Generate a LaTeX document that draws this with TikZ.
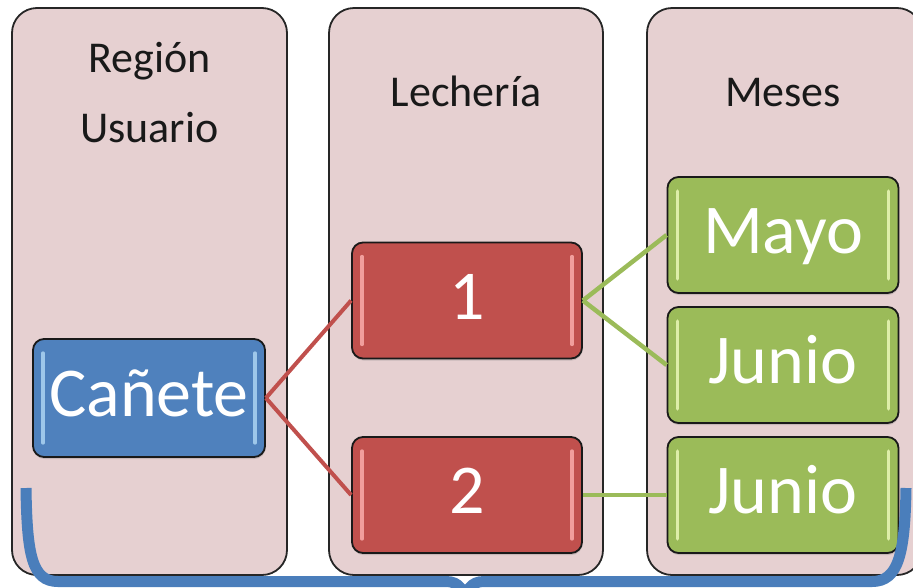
\documentclass[tikz,border=0pt]{standalone}
\usepackage{fontspec}
\setmainfont{Carlito}
\usetikzlibrary{shadows}
\definecolor{colfill}{RGB}{230,208,209}
\definecolor{bluefill}{RGB}{79,129,189}
\definecolor{redfill}{RGB}{192,80,77}
\definecolor{greenfill}{RGB}{155,187,89}
\definecolor{bracketblue}{RGB}{74,126,187}
\definecolor{bluehl}{RGB}{172,212,242}
\definecolor{redhl}{RGB}{250,172,170}
\definecolor{greenhl}{RGB}{234,248,184}
\begin{document}
\begin{tikzpicture}[x=1pt,y=-1pt,
  column/.style={draw=black!85, line width=1.8pt, fill=colfill, rounded corners=25pt,
    minimum height=567pt, inner sep=0pt},
  header/.style={anchor=base, font=\fontsize{44}{50}\selectfont, text=black!90, inner sep=0pt},
  box/.style={draw=black!90, line width=1.8pt, rounded corners=11pt, minimum width=230pt,
    minimum height=116pt, inner sep=0pt, text=white, font=\fontsize{70}{80}\selectfont,
    text height=45pt, text depth=8pt,
    drop shadow={shadow xshift=0.5pt, shadow yshift=-2pt, opacity=0.3}},
  stripe/.style={line width=3.5pt, line cap=round, opacity=0.85},
  redlink/.style={draw=redfill, line width=4pt},
  greenlink/.style={draw=greenfill, line width=4.5pt},
  bracket/.style={draw=bracketblue, line width=11pt}
]
\useasboundingbox (0,0) rectangle (913,587);

% columns
\node[column, minimum width=275pt] (c1) at (149.5,291.5) {};
\node[column, minimum width=274pt] (c2) at (466,291.5) {};
\node[column, minimum width=275pt] (c3) at (784.5,291.5) {};

% headers
\node[header] (h1a) at (149.5,72) {Región};
\node[header] (h1b) at (149.5,142) {Usuario};
\node[header] (h2) at (466,106) {Lechería};
\node[header] (h3) at (783,106) {Meses};

% boxes
\node[box, fill=bluefill, minimum width=232pt, minimum height=118pt] (cn) at (149,398) {Cañete};
\node[box, fill=redfill] (n1) at (467,300.5) {1};
\node[box, fill=redfill] (n2) at (467,495) {2};
\node[box, fill=greenfill, minimum width=231pt] (may) at (783,235) {Mayo};
\node[box, fill=greenfill, minimum width=231pt] (jun1) at (783,365) {Junio};
\node[box, fill=greenfill, minimum width=231pt] (jun2) at (783,495) {Junio};

% glossy stripes
\foreach \b/\c in {cn/bluehl, n1/redhl, n2/redhl, may/greenhl, jun1/greenhl, jun2/greenhl}{
  \draw[stripe, \c] ([xshift=11pt, yshift=-15pt]\b.north west) -- ([xshift=11pt, yshift=15pt]\b.south west);
  \draw[stripe, \c] ([xshift=-11pt, yshift=-15pt]\b.north east) -- ([xshift=-11pt, yshift=15pt]\b.south east);
}

% connectors
\draw[redlink] (cn.east) -- (n1.west);
\draw[redlink] (cn.east) -- (n2.west);
\draw[greenlink] (n1.east) -- (may.west);
\draw[greenlink] (n1.east) -- (jun1.west);
\draw[greenlink] (n2.east) -- (jun2.west);

% bottom brace
\coordinate (bl) at (26,488);
\coordinate (br) at (906,488);
\coordinate (tip) at (465,606);
\draw[bracket] (bl) .. controls (27,555) and (32,581.5) .. (58,581.5) -- (446,581.5)
  .. controls (459,581.5) and (465,590) .. (tip)
  .. controls (465,590) and (471,581.5) .. (484,581.5) -- (872,581.5)
  .. controls (898,581.5) and (905,555) .. (br);
\end{tikzpicture}
\end{document}
